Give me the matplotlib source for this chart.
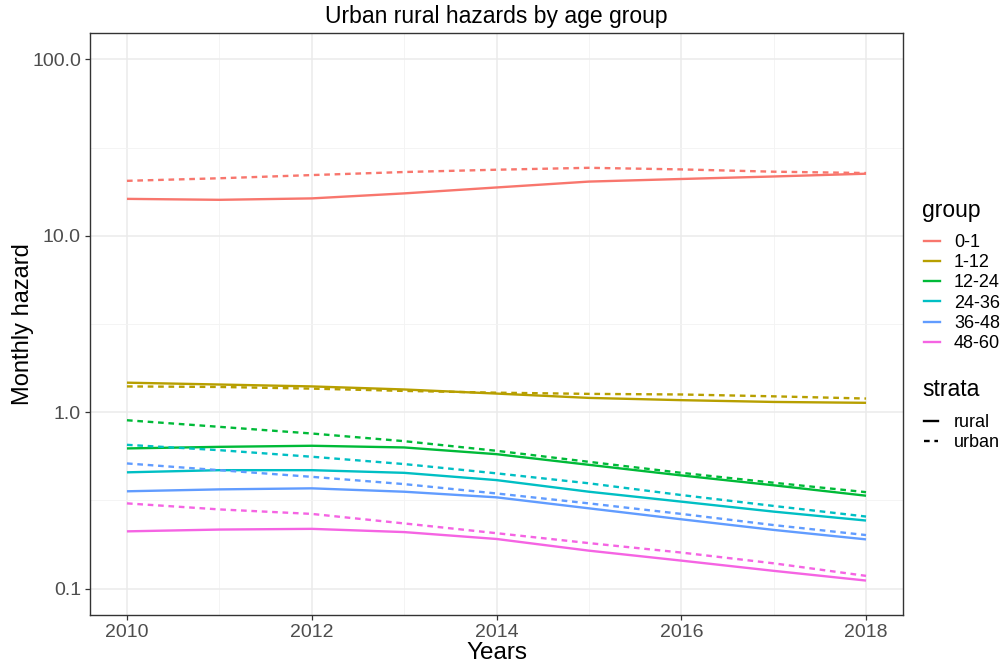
import matplotlib
matplotlib.use("Agg")
import matplotlib.pyplot as plt
from matplotlib.lines import Line2D
from matplotlib.ticker import FixedLocator, FixedFormatter, NullFormatter

plt.rcParams['font.family'] = ['Liberation Sans', 'DejaVu Sans']

years = [2010, 2011, 2012, 2013, 2014, 2015, 2016, 2017, 2018]
groups = ["0-1", "1-12", "12-24", "24-36", "36-48", "48-60"]
colors = ["#F8766D", "#B79F00", "#00BA38", "#00BFC4", "#619CFF", "#F564E3"]
strata = ["rural", "urban"]

rural_0_1 = [16.2, 16.0, 16.3, 17.4, 18.8, 20.3, 21.0, 21.7, 22.5]
urban_0_1 = [20.5, 21.2, 22.1, 23.0, 23.7, 24.3, 23.8, 23.1, 22.7]
rural_1_12 = [1.47, 1.435, 1.40, 1.345, 1.275, 1.205, 1.17, 1.143, 1.13]
urban_1_12 = [1.40, 1.39, 1.36, 1.32, 1.29, 1.27, 1.26, 1.23, 1.195]
rural_12_24 = [0.623, 0.636, 0.645, 0.631, 0.578, 0.503, 0.438, 0.385, 0.336]
urban_12_24 = [0.90, 0.826, 0.757, 0.685, 0.604, 0.523, 0.453, 0.398, 0.352]
rural_24_36 = [0.456, 0.469, 0.469, 0.453, 0.412, 0.354, 0.311, 0.273, 0.243]
urban_24_36 = [0.653, 0.609, 0.559, 0.508, 0.450, 0.395, 0.339, 0.294, 0.256]
rural_36_48 = [0.356, 0.365, 0.370, 0.354, 0.329, 0.285, 0.247, 0.215, 0.190]
urban_36_48 = [0.512, 0.469, 0.430, 0.391, 0.346, 0.304, 0.265, 0.229, 0.201]
rural_48_60 = [0.211, 0.216, 0.218, 0.209, 0.191, 0.164, 0.144, 0.126, 0.111]
urban_48_60 = [0.304, 0.281, 0.265, 0.234, 0.206, 0.181, 0.160, 0.139, 0.118]

rural = [rural_0_1, rural_1_12, rural_12_24, rural_24_36, rural_36_48, rural_48_60]
urban = [urban_0_1, urban_1_12, urban_12_24, urban_24_36, urban_36_48, urban_48_60]

y_ticks = [0.1, 1.0, 10.0, 100.0]
y_tick_labels = ["0.1", "1.0", "10.0", "100.0"]
x_ticks = [2010, 2012, 2014, 2016, 2018]

W, H = 1005, 667
fig = plt.figure(figsize=(W / 100, H / 100), dpi=100)
ax = fig.add_axes([90 / W, 1 - 615 / H, (903 - 90) / W, (615 - 33) / H])

lw = 1.7
dash = (2.4, 2.0)
for col, r, u in zip(colors, rural, urban):
    ax.plot(years, u, color=col, lw=lw, linestyle=(0, dash), zorder=3)
    ax.plot(years, r, color=col, lw=lw, solid_capstyle='butt', zorder=3)

ax.set_yscale('log')
ax.set_xlim(2009.6, 2018.4)
lo, hi = -1.0, 2.0
span = hi - lo
ax.set_ylim(10 ** (lo - 0.05 * span), 10 ** (hi + 0.05 * span))

ax.yaxis.set_major_locator(FixedLocator(y_ticks))
ax.yaxis.set_major_formatter(FixedFormatter(y_tick_labels))
ax.yaxis.set_minor_locator(FixedLocator([10 ** -0.5, 10 ** 0.5, 10 ** 1.5]))
ax.yaxis.set_minor_formatter(NullFormatter())
ax.xaxis.set_major_locator(FixedLocator(x_ticks))
ax.xaxis.set_minor_locator(FixedLocator([2011, 2013, 2015, 2017]))

ax.grid(True, which='major', color='#EBEBEB', lw=1.1, zorder=0)
ax.grid(True, which='minor', color='#F3F3F3', lw=0.6, zorder=0)
ax.set_axisbelow(True)

for s in ax.spines.values():
    s.set_color('#333333')
    s.set_linewidth(1.0)

ax.tick_params(which='major', length=3.5, width=0.9, color='#333333',
               labelsize=14, labelcolor='#4D4D4D', pad=3)
ax.tick_params(which='minor', length=0)

ax.set_xlabel("Years", fontsize=17.5, color='black', labelpad=1)
ax.set_ylabel("Monthly hazard", fontsize=17, color='black')
ax.yaxis.set_label_coords((34 - 90) / 813, 0.5)
ax.set_title("Urban rural hazards by age group", fontsize=16.5, color='black', pad=7)


def fx(px):
    return px / W


def fy(py):
    return 1 - py / H


# legend: group (colour)
key_x0, key_x1, text_x = 924, 940, 954
fig.text(fx(922), fy(216.5), "group", fontsize=16.5, ha='left', va='baseline')
for i, (g, c) in enumerate(zip(groups, colors)):
    yk = 240.7 + 20.2 * i
    fig.add_artist(Line2D([fx(key_x0), fx(key_x1)], [fy(yk), fy(yk)],
                          color=c, lw=lw, transform=fig.transFigure))
    fig.text(fx(text_x), fy(yk + 6.3), g, fontsize=13, ha='left', va='baseline')

# legend: strata (line type)
fig.text(fx(922), fy(396.5), "strata", fontsize=16.5, ha='left', va='baseline')
for i, (s, ls) in enumerate(zip(strata, ['-', (0, dash)])):
    yk = 420.7 + 20.3 * i
    fig.add_artist(Line2D([fx(key_x0), fx(938)], [fy(yk), fy(yk)],
                          color='black', lw=lw, linestyle=ls, transform=fig.transFigure))
    fig.text(fx(text_x), fy(yk + 6.3), s, fontsize=13, ha='left', va='baseline')

fig.savefig("out.png", dpi=100)
